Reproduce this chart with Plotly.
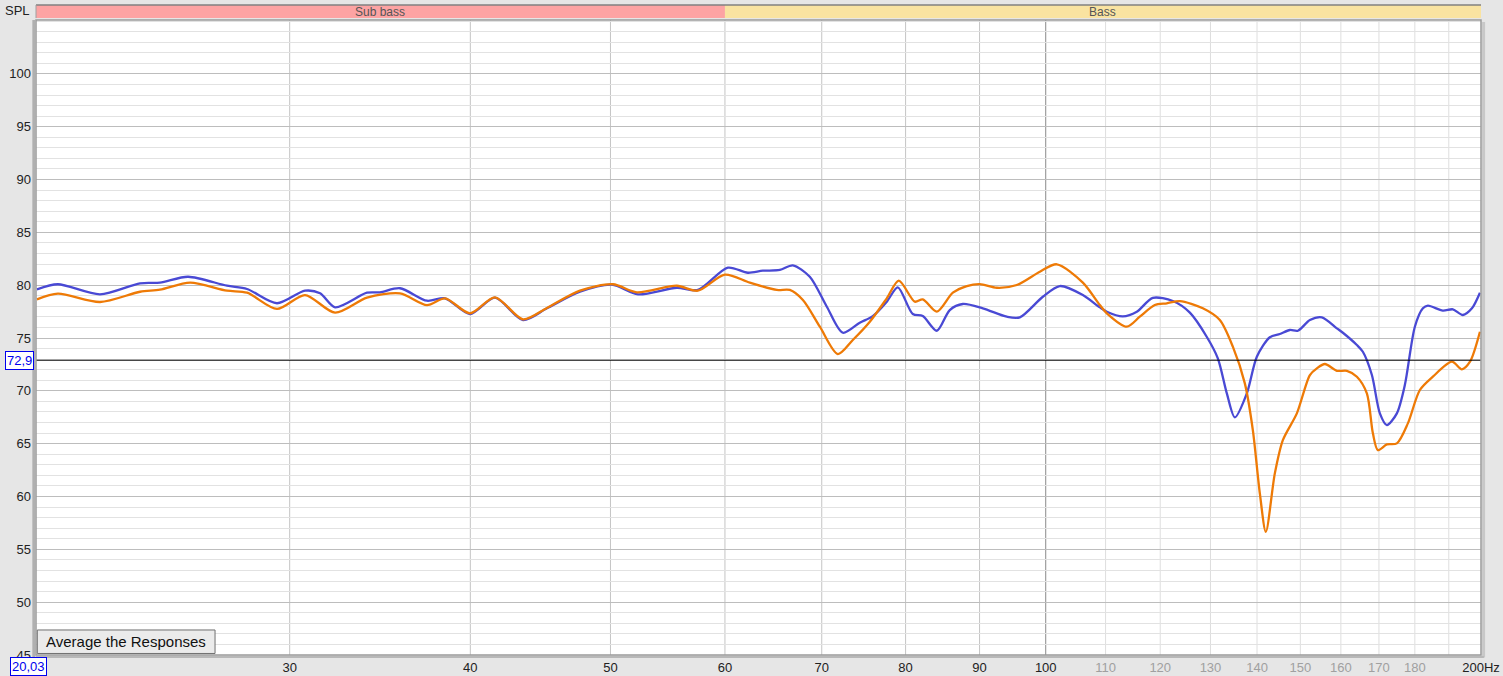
import math
import plotly.graph_objects as go

# ---------------- data ----------------
blue_freq = [20.06, 20.74, 22.18, 23.64, 24.40, 25.52, 27.15, 28.03, 29.40, 30.74, 31.49, 32.25,
             33.93, 34.64, 35.76, 37.33, 38.42, 39.98, 41.60, 43.50, 45.19, 47.63, 50.12, 52.24,
             55.58, 57.47, 60.28, 62.23, 63.73, 65.48, 66.85, 68.68, 70.57, 72.39, 74.37, 75.93,
             77.64, 79.01, 80.92, 82.22, 84.08, 85.83, 87.63, 90.47, 93.99, 95.96, 99.54, 102.27,
             106.09, 109.00, 110.22, 113.06, 115.61, 118.59, 122.44, 125.80, 129.25, 131.53,
             133.43, 135.14, 137.75, 139.96, 142.89, 145.18, 147.52, 149.41, 152.30, 155.23,
             158.98, 160.51, 164.13, 165.70, 168.10, 170.25, 172.16, 174.92, 177.16, 180.01,
             182.32, 183.78, 188.21, 191.23, 194.31, 197.13, 199.67]
blue_spl = [79.61, 80.09, 79.14, 80.18, 80.24, 80.80, 79.95, 79.64, 78.29, 79.48, 79.23, 77.91,
            79.29, 79.33, 79.71, 78.53, 78.76, 77.27, 78.82, 76.70, 77.81, 79.38, 80.05, 79.14,
            79.76, 79.55, 81.66, 81.18, 81.37, 81.44, 81.88, 80.80, 77.96, 75.50, 76.45, 77.08,
            78.44, 79.80, 77.27, 77.08, 75.69, 77.65, 78.22, 77.81, 77.02, 76.96, 78.91, 79.92,
            79.07, 77.90, 77.49, 77.05, 77.49, 78.80, 78.50, 77.40, 75.10, 73.08,
            69.76, 67.49, 69.76, 73.23, 75.07, 75.38, 75.76, 75.69, 76.70, 76.96,
            75.92, 75.50, 74.34, 73.70, 71.50, 67.87, 66.76, 67.87, 70.55, 76.07,
            77.81, 78.06, 77.59, 77.72, 77.18, 77.81, 79.29]

orange_freq = [20.06, 20.74, 22.18, 23.64, 24.40, 25.60, 27.15, 28.03, 29.40, 30.74, 32.25, 33.93,
               35.76, 37.33, 38.42, 39.98, 41.60, 43.50, 45.19, 47.63, 50.20, 52.15, 55.58, 57.47,
               59.99, 62.43, 65.17, 66.53, 67.93, 69.79, 71.81, 73.55, 75.57, 77.64, 79.14, 81.18,
               82.22, 84.08, 86.25, 88.19, 90.04, 92.51, 95.50, 99.07, 101.78, 106.09, 109.00,
               110.22, 113.78, 116.16, 118.97, 121.27, 123.82, 128.43, 131.95, 134.71, 137.31,
               139.07, 140.63, 141.98, 144.03, 145.88, 149.17, 152.30, 154.00, 155.98, 158.98,
               161.54, 164.13, 166.76, 168.37, 169.71, 172.16, 174.92, 178.01, 181.45, 185.24,
               190.93, 194.00, 196.52, 199.67]
orange_spl = [78.66, 79.20, 78.41, 79.38, 79.57, 80.24, 79.48, 79.29, 77.75, 79.07, 77.40, 78.82,
              79.23, 78.12, 78.76, 77.34, 78.85, 76.77, 77.85, 79.48, 80.09, 79.33, 79.95, 79.48,
              81.00, 80.24, 79.55, 79.55, 78.60, 76.07, 73.48, 74.81, 76.54, 78.76, 80.43, 78.44,
              78.66, 77.49, 79.29, 79.92, 80.11, 79.76, 80.02, 81.28, 81.98, 80.25, 78.12,
              77.34, 76.07, 77.02, 78.12, 78.29, 78.50, 77.81, 76.70, 74.18, 70.71,
              66.29, 60.29, 56.66, 62.19, 65.34, 67.87, 71.50, 72.13, 72.54, 71.90,
              71.90, 71.34, 69.76, 65.98, 64.39, 64.93, 65.03, 66.92, 70.08, 71.34,
              72.76, 72.04, 72.76, 75.60]

x_min, x_max = 20.03, 200.0
y_min, y_max = 45.0, 105.1
ref_level = 72.9

x_major = [30, 40, 50, 60, 70, 80, 90, 100]
x_minor = [110, 120, 130, 140, 150, 160, 170, 180, 190]
x_minor_labels = [110, 120, 130, 140, 150, 160, 170, 180]
y_ticks = [45, 50, 55, 60, 65, 70, 75, 80, 85, 90, 95, 100]

bands = [("Sub bass", 20.03, 60.0, "#fda3a3"), ("Bass", 60.0, 200.0, "#f9e3a1")]

# ---------------- figure ----------------
W, H = 1503, 676
L, R, T, B = 36, 22, 20, 21

lx0, lx1 = math.log10(x_min), math.log10(x_max)


def xfrac(f):
    return (math.log10(f) - lx0) / (lx1 - lx0)


fig = go.Figure()

fig.add_trace(go.Scatter(x=blue_freq, y=blue_spl, mode="lines",
                         line=dict(color="#4949d4", width=2.3, shape="spline", smoothing=0.8),
                         hoverinfo="skip", showlegend=False))
fig.add_trace(go.Scatter(x=orange_freq, y=orange_spl, mode="lines",
                         line=dict(color="#ee7a06", width=2.3, shape="spline", smoothing=0.8),
                         hoverinfo="skip", showlegend=False))

shapes = []
# vertical grid lines
for f in x_major:
    col = "#8a8a8a" if f == 100 else "#c4c4c4"
    shapes.append(dict(type="line", xref="paper", yref="paper", x0=xfrac(f), x1=xfrac(f),
                       y0=0, y1=1, line=dict(color=col, width=1), layer="below"))
for f in x_minor:
    shapes.append(dict(type="line", xref="paper", yref="paper", x0=xfrac(f), x1=xfrac(f),
                       y0=0, y1=1, line=dict(color="#dedede", width=1), layer="below"))
# reference line
shapes.append(dict(type="line", xref="paper", yref="y", x0=0, x1=1, y0=ref_level, y1=ref_level,
                   line=dict(color="#000000", width=1), layer="above"))
# bands at the top
for name, f0, f1, col in bands:
    shapes.append(dict(type="rect", xref="paper", yref="paper", x0=xfrac(f0), x1=xfrac(f1),
                       y0=1.003, y1=1.0236, fillcolor=col, line=dict(width=0), layer="above"))
shapes.append(dict(type="line", xref="paper", yref="paper", x0=0, x1=1, y0=1.0236, y1=1.0236,
                   line=dict(color="#808080", width=1.5)))
shapes.append(dict(type="line", xref="paper", yref="paper", x0=0.0, x1=0.0, y0=1.003, y1=1.0236,
                   line=dict(color="#a0a0a0", width=1)))
# plot border / shadow
shapes.append(dict(type="rect", xref="paper", yref="paper", x0=0, x1=1, y0=0, y1=1,
                   line=dict(color="#9a9a9a", width=1.5), fillcolor="rgba(0,0,0,0)", layer="above"))
shapes.append(dict(type="line", xref="paper", yref="paper", x0=-0.0015, x1=-0.0015, y0=-0.003, y1=1.0,
                   line=dict(color="#b0b0b0", width=3), layer="above"))
shapes.append(dict(type="line", xref="paper", yref="paper", x0=1.0018, x1=1.0018, y0=-0.004, y1=0.997,
                   line=dict(color="#c8c8c8", width=3), layer="above"))
shapes.append(dict(type="line", xref="paper", yref="paper", x0=0, x1=1.002, y0=-0.003, y1=-0.003,
                   line=dict(color="#b8b8b8", width=2), layer="above"))
# button
shapes.append(dict(type="rect", xref="paper", yref="paper", x0=0.0009, x1=0.1239, y0=0.0024, y1=0.0394,
                   fillcolor="#ebebeb", line=dict(color="#707070", width=1), layer="above"))

annotations = []
for name, f0, f1, col in bands:
    annotations.append(dict(text=name, xref="paper", yref="paper",
                            x=(xfrac(f0) + xfrac(f1)) / 2, y=1.0133, showarrow=False,
                            font=dict(size=12, color="#555555", family="Liberation Sans, Arial"),
                            xanchor="center", yanchor="middle"))
annotations.append(dict(text="SPL", xref="paper", yref="paper", x=-0.0125, y=1.0155,
                        showarrow=False, xanchor="center", yanchor="middle",
                        font=dict(size=13, color="#222222", family="Liberation Sans, Arial")))
annotations.append(dict(text="72,9", xref="paper", yref="y", x=-0.0013, y=ref_level,
                        showarrow=False, xanchor="right", yanchor="middle",
                        font=dict(size=13, color="#0000ee", family="Liberation Sans, Arial"),
                        bordercolor="#0000ee", borderwidth=1, borderpad=1, bgcolor="#ffffff"))
annotations.append(dict(text="20,03", xref="paper", yref="paper", x=-0.0055, y=-0.0175,
                        showarrow=False, xanchor="center", yanchor="middle",
                        font=dict(size=13, color="#0000ee", family="Liberation Sans, Arial"),
                        bordercolor="#0000ee", borderwidth=1, borderpad=1, bgcolor="#ffffff"))
annotations.append(dict(text="Average the Responses", xref="paper", yref="paper", x=0.0624, y=0.0209,
                        showarrow=False, xanchor="center", yanchor="middle",
                        font=dict(size=15, color="#111111", family="Liberation Sans, Arial")))

tickvals = x_major + x_minor_labels + [200]
ticktext = [str(v) for v in x_major] + \
    ["<span style='color:#a0a0a0'>%d</span>" % v for v in x_minor_labels] + ["200Hz"]

fig.update_layout(
    width=W, height=H,
    margin=dict(l=L, r=R, t=T, b=B, pad=0, autoexpand=False),
    paper_bgcolor="#e6e6e6",
    plot_bgcolor="#ffffff",
    font=dict(family="Liberation Sans, Arial", size=12, color="#222222"),
    xaxis=dict(type="log", range=[lx0, lx1], showgrid=False, zeroline=False, automargin=False,
               tickvals=tickvals, ticktext=ticktext, ticks="", ticklen=0, ticklabelstandoff=3,
               tickfont=dict(size=13, color="#222222"), showline=False, fixedrange=True),
    yaxis=dict(range=[y_min, y_max], tickvals=y_ticks, showgrid=True, gridcolor="#bdbdbd",
               gridwidth=1, zeroline=False, ticks="", showline=False, automargin=False,
               ticklabelstandoff=4,
               tickfont=dict(size=13, color="#222222"),
               minor=dict(dtick=1, showgrid=True, gridcolor="#e2e2e2", gridwidth=1),
               fixedrange=True),
    shapes=shapes,
    annotations=annotations,
)

fig.write_html("out.html", config={"displayModeBar": False},
               post_script="document.body.style.margin='0px';document.body.style.overflow='hidden';")
